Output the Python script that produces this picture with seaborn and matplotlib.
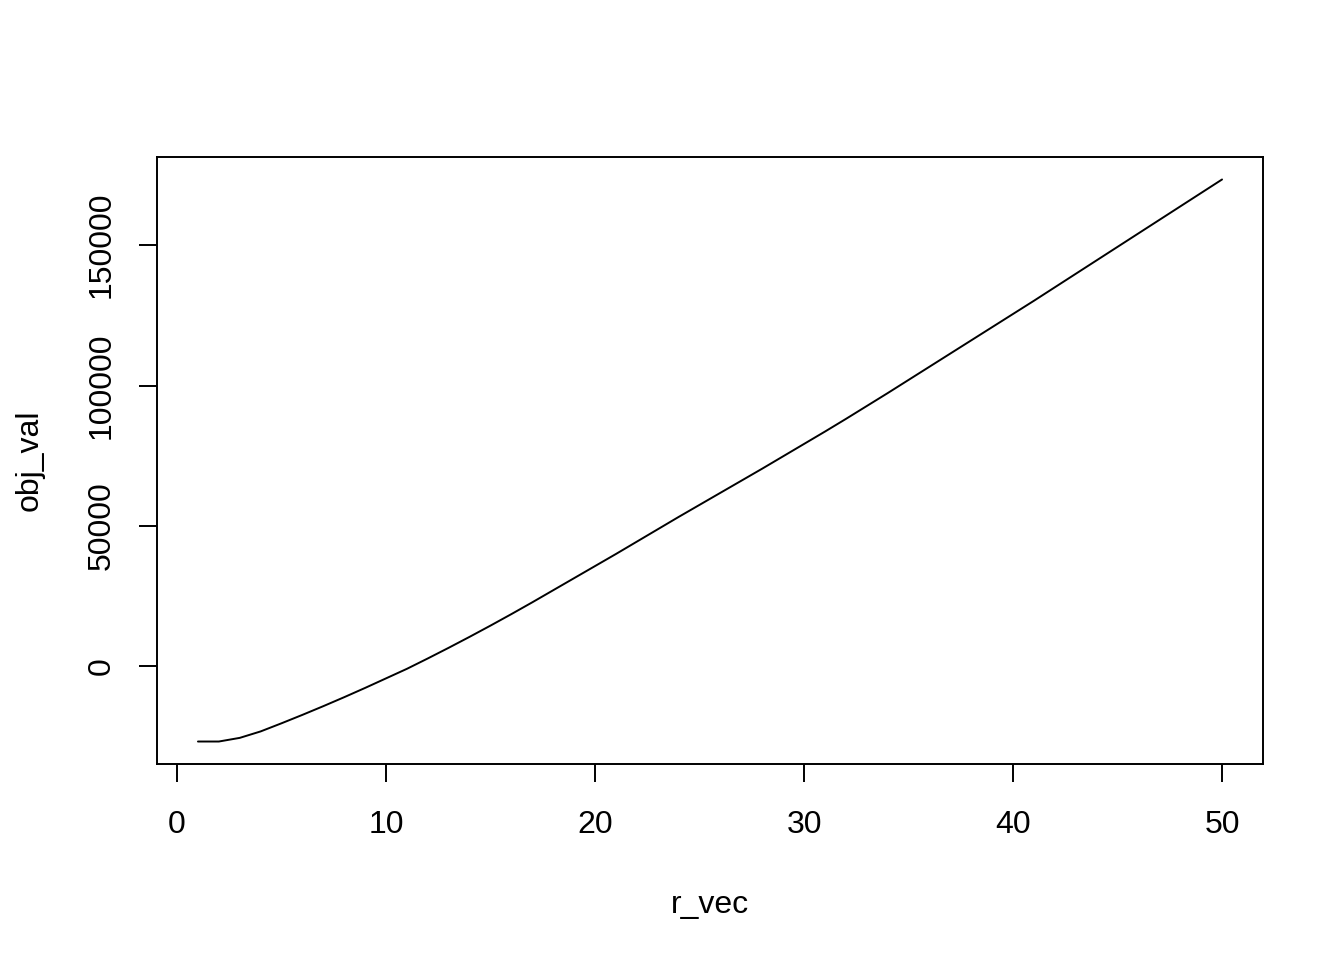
import seaborn as sns
import pandas as pd
import matplotlib
matplotlib.use("Agg")
import matplotlib.pyplot as plt

# values
r_vec = list(range(1, 51))
obj_val = [
    -26800, -26800, -25500, -23200, -20300, -17300, -14200, -11000, -7700, -4300,
    -900, 2800, 6600, 10500, 14500, 18600, 22800, 27100, 31400, 35700,
    40000, 44400, 48800, 53200, 57500, 61800, 66100, 70400, 74800, 79200,
    83600, 88100, 92700, 97300, 102000, 106700, 111400, 116100, 120800, 125500,
    130200, 135000, 139800, 144600, 149400, 154200, 159000, 163800, 168600, 173400,
]
x_ticks = [0, 10, 20, 30, 40, 50]
y_ticks = [0, 50000, 100000, 150000]

df = pd.DataFrame({"r_vec": r_vec, "obj_val": obj_val})

sns.set_style("ticks")
plt.rcParams["font.family"] = ["Liberation Sans", "DejaVu Sans"]
plt.rcParams["text.color"] = "black"
plt.rcParams["axes.labelcolor"] = "black"

fig = plt.figure(figsize=(13.44, 9.6), dpi=100)
ax = fig.add_axes([157 / 1344, 1 - 764 / 960, (1263 - 157) / 1344, (764 - 157) / 960])

sns.lineplot(data=df, x="r_vec", y="obj_val", color="black", linewidth=1.4, ax=ax)

# R-style 4% padding on both axes
xr = max(r_vec) - min(r_vec)
yr = max(obj_val) - min(obj_val)
ax.set_xlim(min(r_vec) - 0.04 * xr, max(r_vec) + 0.04 * xr)
ax.set_ylim(min(obj_val) - 0.04 * yr, max(obj_val) + 0.04 * yr)

ax.set_xticks(x_ticks)
ax.set_yticks(y_ticks)
ax.set_yticklabels([str(v) for v in y_ticks], rotation=90, va="center")

for s in ax.spines.values():
    s.set_visible(True)
    s.set_color("black")
    s.set_linewidth(1.4)

ax.tick_params(axis="both", length=13, width=1.4, color="black", labelsize=23,
               labelcolor="black")
ax.tick_params(axis="x", pad=20)
ax.tick_params(axis="y", pad=16)

ax.set_xlabel("r_vec", fontsize=23, labelpad=36, color="black")
ax.set_ylabel("obj_val", fontsize=23, labelpad=30, color="black")

fig.savefig("out.png", dpi=100, facecolor="white")
